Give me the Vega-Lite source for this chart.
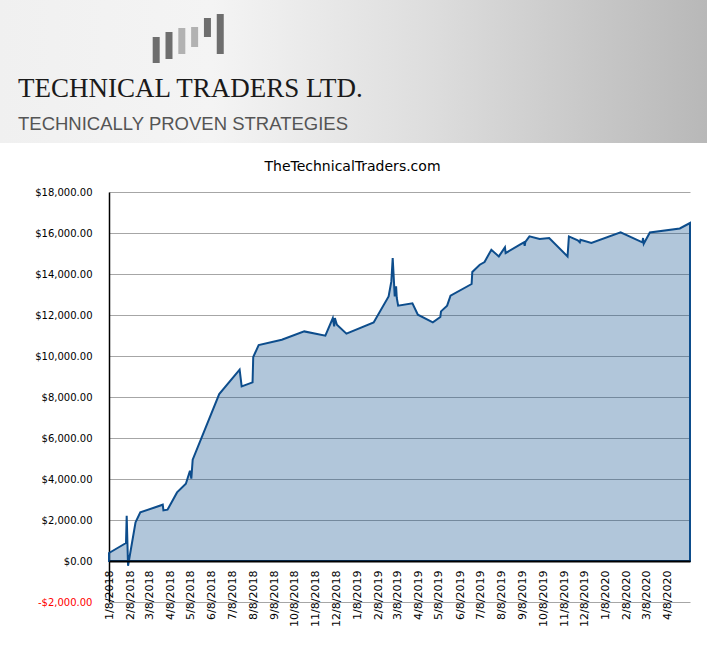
{
  "$schema": "https://vega.github.io/schema/vega-lite/v6.json",
  "padding": 0,
  "spacing": 17,
  "background": "white",
  "config": {"view": {"stroke": null}},
  "vconcat": [
    {
      "width": 707,
      "height": 143,
      "view": {
        "stroke": null,
        "fill": {
          "gradient": "linear", "x1": 0, "y1": 0, "x2": 1, "y2": 0,
          "stops": [
            {"offset": 0, "color": "#f0f0f0"},
            {"offset": 0.3, "color": "#f4f4f4"},
            {"offset": 0.6, "color": "#dedede"},
            {"offset": 1, "color": "#b8b8b8"}
          ]
        }
      },
      "title": {
        "text": "TECHNICAL TRADERS LTD.",
        "subtitle": "TECHNICALLY PROVEN STRATEGIES",
        "anchor": "start",
        "frame": "group",
        "orient": "top",
        "offset": -134,
        "dx": 18,
        "font": "Liberation Serif",
        "fontSize": 27,
        "fontWeight": "normal",
        "color": "#1a1a1a",
        "subtitleFont": "Liberation Sans",
        "subtitleFontSize": 18.5,
        "subtitleColor": "#555555",
        "subtitlePadding": 12
      },
      "data": {
        "values": [
          {"candle": 1, "low": 80, "high": 106, "shade": "dark"},
          {"candle": 2, "low": 84, "high": 111, "shade": "dark"},
          {"candle": 3, "low": 89, "high": 115, "shade": "light"},
          {"candle": 4, "low": 96, "high": 116, "shade": "light"},
          {"candle": 5, "low": 106, "high": 125, "shade": "dark"},
          {"candle": 6, "low": 89, "high": 129, "shade": "dark"}
        ]
      },
      "mark": {"type": "bar", "size": 7},
      "encoding": {
        "x": {"field": "candle", "type": "quantitative", "scale": {"domain": [-10.8, 43.6], "nice": false, "zero": false}, "axis": null},
        "y": {"field": "low", "type": "quantitative", "scale": {"domain": [0, 143], "nice": false}, "axis": null},
        "y2": {"field": "high"},
        "color": {"field": "shade", "type": "nominal", "scale": {"domain": ["dark", "light"], "range": ["#6e6e6e", "#b2b2b2"]}, "legend": null}
      }
    },
    {
      "spacing": 0,
      "hconcat": [
        {
          "width": 1,
          "height": 1,
          "data": {"values": [{}]},
          "mark": {"type": "point", "size": 0, "opacity": 0},
          "encoding": {}
        },
        {
          "width": 581,
          "height": 410,
          "title": {
            "text": "TheTechnicalTraders.com",
            "font": "DejaVu Sans",
            "fontSize": 14,
            "fontWeight": "normal",
            "color": "#000000",
            "anchor": "middle",
            "offset": 13,
            "dx": -47
          },
          "data": {
            "values": [
              {"date": "2018-01-08", "value": 390},
              {"date": "2018-02-02", "value": 878},
              {"date": "2018-02-03", "value": 2210},
              {"date": "2018-02-05", "value": -230},
              {"date": "2018-02-16", "value": 1883},
              {"date": "2018-02-23", "value": 2370},
              {"date": "2018-03-28", "value": 2746},
              {"date": "2018-03-29", "value": 2470},
              {"date": "2018-04-04", "value": 2502},
              {"date": "2018-04-18", "value": 3346},
              {"date": "2018-05-01", "value": 3770},
              {"date": "2018-05-07", "value": 4405},
              {"date": "2018-05-09", "value": 4015},
              {"date": "2018-05-11", "value": 4940},
              {"date": "2018-06-19", "value": 8146},
              {"date": "2018-07-19", "value": 9332},
              {"date": "2018-07-22", "value": 8517},
              {"date": "2018-08-07", "value": 8712},
              {"date": "2018-08-08", "value": 9951},
              {"date": "2018-08-16", "value": 10537},
              {"date": "2018-09-19", "value": 10795},
              {"date": "2018-10-22", "value": 11200},
              {"date": "2018-11-22", "value": 10990},
              {"date": "2018-12-03", "value": 11854},
              {"date": "2018-12-05", "value": 11444},
              {"date": "2018-12-06", "value": 11854},
              {"date": "2018-12-09", "value": 11527},
              {"date": "2018-12-23", "value": 11088},
              {"date": "2019-02-01", "value": 11640},
              {"date": "2019-02-23", "value": 12907},
              {"date": "2019-02-27", "value": 13640},
              {"date": "2019-03-01", "value": 14780},
              {"date": "2019-03-04", "value": 12907},
              {"date": "2019-03-06", "value": 13395},
              {"date": "2019-03-07", "value": 12830},
              {"date": "2019-03-09", "value": 12454},
              {"date": "2019-03-30", "value": 12570},
              {"date": "2019-04-07", "value": 12015},
              {"date": "2019-04-29", "value": 11640},
              {"date": "2019-05-10", "value": 11902},
              {"date": "2019-05-11", "value": 12176},
              {"date": "2019-05-20", "value": 12454},
              {"date": "2019-05-25", "value": 12942},
              {"date": "2019-06-25", "value": 13512},
              {"date": "2019-06-26", "value": 14098},
              {"date": "2019-07-07", "value": 14454},
              {"date": "2019-07-14", "value": 14585},
              {"date": "2019-07-24", "value": 15185},
              {"date": "2019-08-04", "value": 14858},
              {"date": "2019-08-13", "value": 15298},
              {"date": "2019-08-14", "value": 15024},
              {"date": "2019-09-04", "value": 15429},
              {"date": "2019-09-10", "value": 15541},
              {"date": "2019-09-11", "value": 15380},
              {"date": "2019-09-12", "value": 15560},
              {"date": "2019-09-18", "value": 15834},
              {"date": "2019-10-03", "value": 15707},
              {"date": "2019-10-17", "value": 15756},
              {"date": "2019-11-13", "value": 14858},
              {"date": "2019-11-15", "value": 15834},
              {"date": "2019-11-28", "value": 15639},
              {"date": "2019-12-01", "value": 15541},
              {"date": "2019-12-02", "value": 15673},
              {"date": "2019-12-18", "value": 15512},
              {"date": "2020-01-30", "value": 16029},
              {"date": "2020-03-02", "value": 15541},
              {"date": "2020-03-03", "value": 15756},
              {"date": "2020-03-04", "value": 15480},
              {"date": "2020-03-13", "value": 16029},
              {"date": "2020-04-26", "value": 16224},
              {"date": "2020-05-11", "value": 16488}
            ]
          },
          "mark": {
            "type": "area",
            "color": "#0d4d8c",
            "fillOpacity": 0.32,
            "stroke": "#0d4d8c",
            "strokeWidth": 2,
            "strokeOpacity": 1
          },
          "encoding": {
            "x": {
              "field": "date",
              "type": "temporal",
              "scale": {
                "nice": false,
                "domain": [
                  {"year": 2018, "month": 1, "date": 8, "utc": true},
                  {"year": 2020, "month": 5, "date": 11, "utc": true}
                ]
              },
              "axis": {
                "title": null,
                "values": [
                  {"year": 2018, "month": 1, "date": 8, "utc": true},
                  {"year": 2018, "month": 2, "date": 8, "utc": true},
                  {"year": 2018, "month": 3, "date": 8, "utc": true},
                  {"year": 2018, "month": 4, "date": 8, "utc": true},
                  {"year": 2018, "month": 5, "date": 8, "utc": true},
                  {"year": 2018, "month": 6, "date": 8, "utc": true},
                  {"year": 2018, "month": 7, "date": 8, "utc": true},
                  {"year": 2018, "month": 8, "date": 8, "utc": true},
                  {"year": 2018, "month": 9, "date": 8, "utc": true},
                  {"year": 2018, "month": 10, "date": 8, "utc": true},
                  {"year": 2018, "month": 11, "date": 8, "utc": true},
                  {"year": 2018, "month": 12, "date": 8, "utc": true},
                  {"year": 2019, "month": 1, "date": 8, "utc": true},
                  {"year": 2019, "month": 2, "date": 8, "utc": true},
                  {"year": 2019, "month": 3, "date": 8, "utc": true},
                  {"year": 2019, "month": 4, "date": 8, "utc": true},
                  {"year": 2019, "month": 5, "date": 8, "utc": true},
                  {"year": 2019, "month": 6, "date": 8, "utc": true},
                  {"year": 2019, "month": 7, "date": 8, "utc": true},
                  {"year": 2019, "month": 8, "date": 8, "utc": true},
                  {"year": 2019, "month": 9, "date": 8, "utc": true},
                  {"year": 2019, "month": 10, "date": 8, "utc": true},
                  {"year": 2019, "month": 11, "date": 8, "utc": true},
                  {"year": 2019, "month": 12, "date": 8, "utc": true},
                  {"year": 2020, "month": 1, "date": 8, "utc": true},
                  {"year": 2020, "month": 2, "date": 8, "utc": true},
                  {"year": 2020, "month": 3, "date": 8, "utc": true},
                  {"year": 2020, "month": 4, "date": 8, "utc": true}
                ],
                "labelExpr": "utcFormat(datum.value, '%-m/%-d/%Y')",
                "labelAngle": -90,
                "labelFont": "DejaVu Sans",
                "labelFontSize": 11,
                "labelColor": "#000000",
                "labelPadding": 9,
                "labelOverlap": false,
                "labelFlush": false,
                "labelBound": false,
                "ticks": false,
                "grid": false,
                "domainColor": "#000000",
                "domainWidth": 2,
                "offset": -41,
                "zindex": 1
              }
            },
            "y": {
              "field": "value",
              "type": "quantitative",
              "scale": {"domain": [-2000, 18000], "nice": false},
              "axis": {
                "title": null,
                "values": [-2000, 0, 2000, 4000, 6000, 8000, 10000, 12000, 14000, 16000, 18000],
                "labelExpr": "datum.value < 0 ? '-$' + format(-datum.value, ',.2f') : '$' + format(datum.value, ',.2f')",
                "labelColor": {"condition": {"test": "datum.value < 0", "value": "#ff0000"}, "value": "#000000"},
                "labelFont": "DejaVu Sans",
                "labelFontSize": 10,
                "labelPadding": 17,
                "ticks": false,
                "domainColor": "#000000",
                "domainWidth": 1.5,
                "gridColor": "#a6a6a6",
                "gridWidth": 1,
                "minExtent": 107.5
              }
            }
          }
        }
      ]
    }
  ]
}
